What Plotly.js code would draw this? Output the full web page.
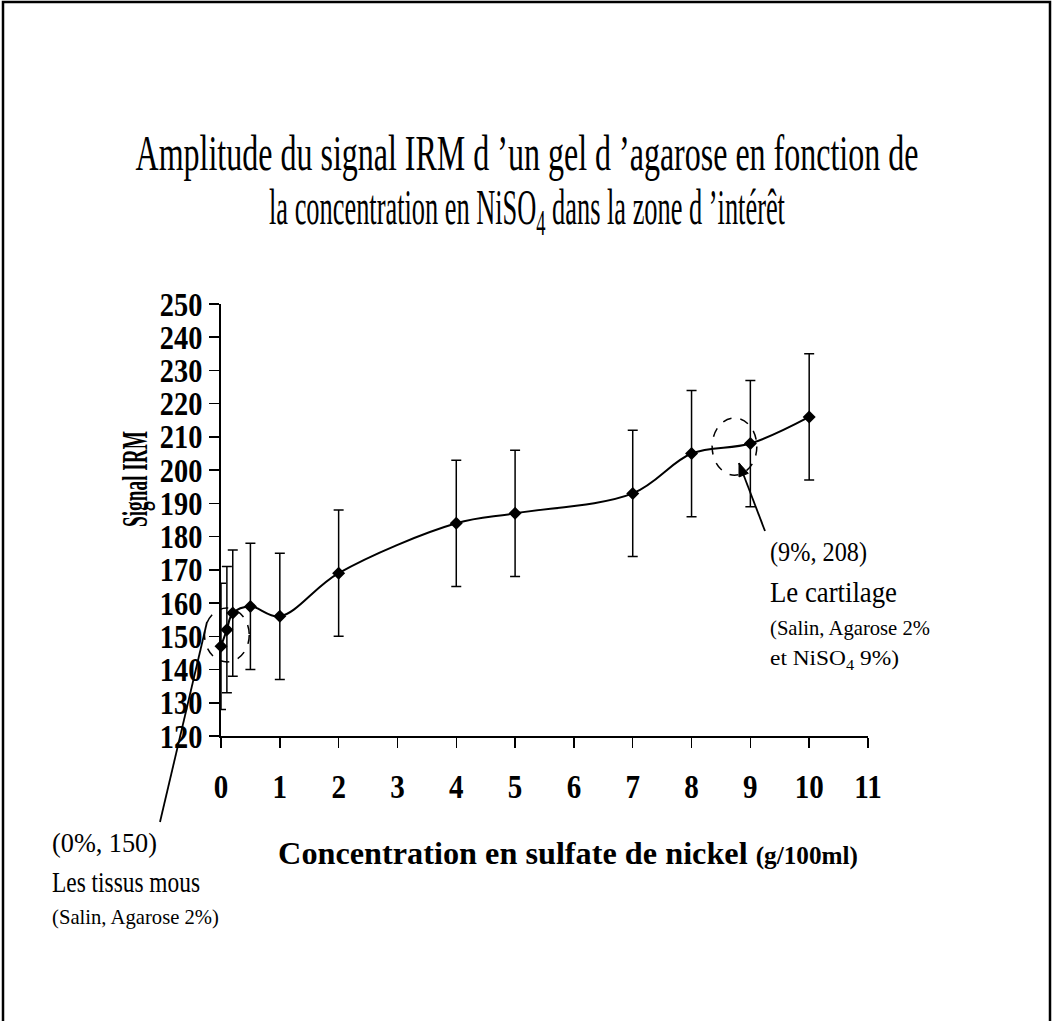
<!DOCTYPE html>
<html>
<head>
<meta charset="utf-8">
<script src="https://cdn.plot.ly/plotly-3.0.1.min.js"></script>
<style>
html,body{margin:0;padding:0;background:#fff;}
#chart{width:1053px;height:1021px;}
</style>
</head>
<body>
<div id="chart"></div>
<script>
// ---- data ----
const concentration = [0, 0.1, 0.2, 0.5, 1, 2, 4, 5, 7, 8, 9, 10];
const signalIRM     = [147, 152, 157, 159, 156, 169, 184, 187, 193, 205, 208, 216];
const errorIRM      = [19, 19, 19, 19, 19, 19, 19, 19, 19, 19, 19, 19];
const xTicks = [0, 1, 2, 3, 4, 5, 6, 7, 8, 9, 10, 11];
const yTicks = [120, 130, 140, 150, 160, 170, 180, 190, 200, 210, 220, 230, 240, 250];
const xRange = [0, 11];
const yRange = [120, 250];
// highlighted zones (centre of dashed ellipses)
const zoneX = [0.1, 8.73];
const zoneY = [150.4, 207.1];
const zoneLabels = ['(0%, 150)', '(9%, 208)'];
const zoneNames = ['Les tissus mous', 'Le cartilage'];
const zoneDetails = [['(Salin, Agarose 2%)'], ['(Salin, Agarose 2%', 'et NiSO<sub>4</sub> 9%)']];

// ---- geometry ----
const W = 1053, H = 1021, L = 221, R = 185, T = 304, B = 285;
const PW = W - L - R, PH = H - T - B;
const px = v => (v - L) / PW;            // pixel -> paper x
const py = v => (H - B - v) / PH;        // pixel -> paper y
const dx2p = v => (v - xRange[0]) / (xRange[1] - xRange[0]);   // data -> paper x
const dy2p = v => (v - yRange[0]) / (yRange[1] - yRange[0]);   // data -> paper y
const SERIF = 'Liberation Serif, Times New Roman, serif';
const BLACK = '#000';

const trace = {
  x: concentration,
  y: signalIRM,
  type: 'scatter',
  mode: 'lines+markers',
  line: {color: BLACK, width: 2, shape: 'spline'},
  marker: {symbol: 'diamond', size: 10, color: BLACK},
  error_y: {type: 'data', array: errorIRM, visible: true, color: BLACK, thickness: 1.5, width: 5},
  cliponaxis: false,
  showlegend: false,
  hoverinfo: 'x+y'
};

const rxZone = 0.38, ryZone = [8.1, 8.6];
const shapes = [
  {type: 'rect', xref: 'paper', yref: 'paper', x0: px(3), x1: px(1050), y0: py(1040), y1: py(2),
   line: {color: BLACK, width: 2.5}},
];
zoneX.forEach((zx, i) => {
  shapes.push({type: 'circle', xref: 'paper', yref: 'paper',
    x0: dx2p(zx - rxZone), x1: dx2p(zx + rxZone),
    y0: dy2p(zoneY[i] - ryZone[i]), y1: dy2p(zoneY[i] + ryZone[i]),
    line: {color: BLACK, width: 1.5, dash: 'dash'}});
});
// pointer lines (tail pixel -> head pixel)
const pointers = [
  {tail: [160, 822], head: [207, 622], head_marker: false},
  {tail: [765, 531], head: [739, 463], head_marker: true}
];
pointers.forEach(p => {
  shapes.push({type: 'line', xref: 'paper', yref: 'paper',
    x0: px(p.tail[0]), y0: py(p.tail[1]), x1: px(p.head[0]), y1: py(p.head[1]),
    line: {color: BLACK, width: 1.8}});
  if (p.head_marker) {
    const vx = p.head[0] - p.tail[0], vy = p.head[1] - p.tail[1];
    const len = Math.hypot(vx, vy), ux = vx / len, uy = vy / len;
    const bx = p.head[0] - 13 * ux, by = p.head[1] - 13 * uy;
    const nx = -uy, ny = ux, hw = 5;
    const pts = [[p.head[0], p.head[1]], [bx + hw * nx, by + hw * ny], [bx - hw * nx, by - hw * ny]];
    shapes.push({type: 'path', xref: 'paper', yref: 'paper',
      path: 'M' + pts.map(q => px(q[0]) + ',' + py(q[1])).join(' L') + ' Z',
      fillcolor: BLACK, line: {color: BLACK, width: 1}});
  }
});

const txt = (text, x, y, size) => ({
  text, xref: 'paper', yref: 'paper', x: px(x), y: py(y), xanchor: 'left', yanchor: 'middle',
  showarrow: false, font: {family: SERIF, size, color: BLACK}
});

const annotations = [
  txt(zoneLabels[0], 50, 842, 28),
  txt(zoneNames[0], 50, 882, 29),
  txt(zoneDetails[0][0], 50, 916, 22),
  txt(zoneLabels[1], 768, 551, 28),
  txt(zoneNames[1], 768, 592, 29),
  txt(zoneDetails[1][0], 768, 627, 22),
  txt(zoneDetails[1][1], 768, 659, 22)
];

const tickFont = {family: SERIF, size: 33, color: BLACK, weight: 'bold'};

const layout = {
  width: W, height: H,
  margin: {l: L, r: R, t: T, b: B, pad: 0},
  paper_bgcolor: '#fff', plot_bgcolor: '#fff',
  title: {
    text: 'Amplitude du signal IRM d ’un gel d ’agarose en fonction de<br>la concentration en NiSO<sub>4</sub> dans la zone d ’intérêt',
    font: {family: SERIF, size: 50, color: BLACK},
    xref: 'container', x: 0.5, xanchor: 'center',
    yref: 'container', y: 1 - 180 / H, yanchor: 'middle'
  },
  xaxis: {
    range: xRange, tickvals: xTicks, ticktext: xTicks.map(String),
    ticks: 'outside', ticklen: 10, tickwidth: 1.5, tickcolor: BLACK,
    showline: true, linewidth: 2, linecolor: BLACK, showgrid: false, zeroline: false,
    tickfont: tickFont, ticklabelstandoff: 10,
    title: {text: '<b>Concentration en sulfate de nickel <span style="font-size:25px">(g/100ml)</span></b>',
            font: {family: SERIF, size: 32, color: BLACK}, standoff: 38}
  },
  yaxis: {
    range: yRange, tickvals: yTicks, ticktext: yTicks.map(String),
    ticks: 'outside', ticklen: 10, tickwidth: 1.5, tickcolor: BLACK,
    showline: true, linewidth: 2, linecolor: BLACK, showgrid: false, zeroline: false,
    tickfont: tickFont,
    title: {text: '<b>Signal IRM</b>', font: {family: SERIF, size: 35, color: BLACK}, standoff: 10}
  },
  shapes, annotations
};

function squish(el, s, anchor) {
  if (!el) return;
  const b = el.getBBox();
  if (!b.width) return;
  const ox = anchor === 'left' ? b.x : (anchor === 'right' ? b.x + b.width : b.x + b.width / 2);
  const prev = el.getAttribute('transform') || '';
  el.setAttribute('transform', prev + ' translate(' + ox + ',0) scale(' + s + ',1) translate(' + (-ox) + ',0)');
}
function squishTo(el, target, anchor) {
  if (!el) return;
  const b = el.getBBox();
  if (!b.width) return;
  squish(el, target / b.width, anchor);
}
function place(el, cx, cy) {
  if (!el) return;
  const r = el.getBoundingClientRect();
  const dx = cx == null ? 0 : cx - (r.left + r.width / 2);
  const dy = cy == null ? 0 : cy - (r.top + r.height / 2);
  const prev = el.getAttribute('transform') || '';
  el.setAttribute('transform', 'translate(' + dx + ',' + dy + ') ' + prev);
}

Plotly.newPlot('chart', [trace], layout, {staticPlot: true}).then(gd => {
  const q = s => gd.querySelector(s);
  const tt = q('.g-gtitle text');
  if (tt) {
    const lines = tt.querySelectorAll('tspan.line');
    if (lines.length === 2) {
      const clone = tt.cloneNode(true);
      clone.querySelectorAll('tspan.line')[0].remove();
      lines[1].remove();
      tt.parentNode.appendChild(clone);
      squishTo(tt, 783, 'center'); place(tt, 527, 153);
      squishTo(clone, 516, 'center'); place(clone, 527, 211);
    } else {
      squishTo(tt, 783, 'center');
    }
  }
  squishTo(q('.g-xtitle text'), 580, 'center');
  place(q('.g-xtitle text'), 568, 853);
  squishTo(q('.g-ytitle text'), 96, 'center');
  place(q('.g-ytitle text'), 135, 479);
  gd.querySelectorAll('.xtick text').forEach(t => squish(t, 0.88, 'center'));
  gd.querySelectorAll('.ytick text').forEach(t => squish(t, 0.86, 'right'));
  const annTargets = {0: 105, 1: 148, 2: 167, 3: 97, 4: 127, 5: 160, 6: 129};
  Object.keys(annTargets).forEach(i => {
    squishTo(q('.annotation[data-index="' + i + '"] text'), annTargets[i], 'left');
  });
});
</script>
</body>
</html>
